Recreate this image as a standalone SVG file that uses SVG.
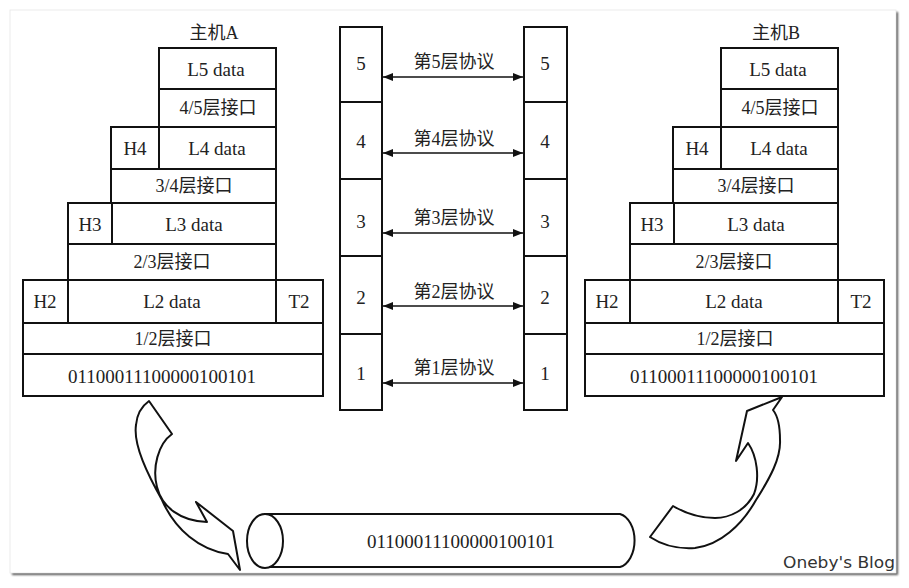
<svg xmlns="http://www.w3.org/2000/svg" width="909" height="588" viewBox="0 0 909 588">
<style>
.b{fill:#fff;stroke:#111;stroke-width:2}
.t{font-family:"Liberation Serif","Noto Sans CJK SC",serif;font-size:18px;fill:#222;text-anchor:middle;dominant-baseline:central}
.n{font-size:19px}
.ln{stroke:#111;stroke-width:1.6;fill:none}
.arr{fill:#fff;stroke:#111;stroke-width:2;stroke-linejoin:round}
</style>
<defs>
<marker id="ah" viewBox="0 0 10 8" refX="10" refY="4" markerWidth="10" markerHeight="8" markerUnits="userSpaceOnUse" orient="auto-start-reverse">
<path d="M0,0 L10,4 L0,8 Z" fill="#111"/>
</marker>
<filter id="sh" x="-5%" y="-5%" width="110%" height="110%">
<feGaussianBlur stdDeviation="1.3"/>
</filter>
</defs>
<rect x="0" y="0" width="909" height="588" fill="#fff"/>
<rect x="12" y="12" width="886" height="563" fill="#555" filter="url(#sh)"/>
<rect x="10" y="10" width="886" height="563" fill="#fff" stroke="#e6e6e6" stroke-width="0.8"/>

<g id="hostA">
<text class="t" x="214" y="33">主机A</text>
<rect class="b" x="159" y="48" width="117" height="41"/>
<text class="t n" x="216" y="69">L5 data</text>
<rect class="b" x="159" y="89" width="117" height="38"/>
<text class="t" x="218" y="108">4/5层接口</text>
<rect class="b" x="111" y="127" width="48" height="42"/>
<text class="t n" x="135" y="148">H4</text>
<rect class="b" x="159" y="127" width="117" height="42"/>
<text class="t n" x="217" y="148">L4 data</text>
<rect class="b" x="111" y="169" width="165" height="34"/>
<text class="t" x="194" y="186">3/4层接口</text>
<rect class="b" x="68" y="203" width="44" height="41"/>
<text class="t n" x="90" y="224">H3</text>
<rect class="b" x="112" y="203" width="164" height="41"/>
<text class="t n" x="194" y="224">L3 data</text>
<rect class="b" x="68" y="244" width="208" height="36"/>
<text class="t" x="172" y="262">2/3层接口</text>
<rect class="b" x="23" y="280" width="45" height="43"/>
<text class="t n" x="45" y="301">H2</text>
<rect class="b" x="68" y="280" width="208" height="43"/>
<text class="t n" x="172" y="301">L2 data</text>
<rect class="b" x="276" y="280" width="47" height="43"/>
<text class="t n" x="299" y="301">T2</text>
<rect class="b" x="23" y="323" width="300" height="31"/>
<text class="t" x="173" y="339">1/2层接口</text>
<rect class="b" x="23" y="354" width="300" height="42"/>
<text class="t n" x="162" y="376">01100011100000100101</text>
</g>

<g id="hostB">
<text class="t" x="776" y="33">主机B</text>
<rect class="b" x="721" y="48" width="117" height="41"/>
<text class="t n" x="778" y="69">L5 data</text>
<rect class="b" x="721" y="89" width="117" height="38"/>
<text class="t" x="780" y="108">4/5层接口</text>
<rect class="b" x="673" y="127" width="48" height="42"/>
<text class="t n" x="697" y="148">H4</text>
<rect class="b" x="721" y="127" width="117" height="42"/>
<text class="t n" x="779" y="148">L4 data</text>
<rect class="b" x="673" y="169" width="165" height="34"/>
<text class="t" x="756" y="186">3/4层接口</text>
<rect class="b" x="630" y="203" width="44" height="41"/>
<text class="t n" x="652" y="224">H3</text>
<rect class="b" x="674" y="203" width="164" height="41"/>
<text class="t n" x="756" y="224">L3 data</text>
<rect class="b" x="630" y="244" width="208" height="36"/>
<text class="t" x="734" y="262">2/3层接口</text>
<rect class="b" x="585" y="280" width="45" height="43"/>
<text class="t n" x="607" y="301">H2</text>
<rect class="b" x="630" y="280" width="208" height="43"/>
<text class="t n" x="734" y="301">L2 data</text>
<rect class="b" x="838" y="280" width="46" height="43"/>
<text class="t n" x="861" y="301">T2</text>
<rect class="b" x="585" y="323" width="299" height="31"/>
<text class="t" x="735" y="339">1/2层接口</text>
<rect class="b" x="585" y="354" width="299" height="42"/>
<text class="t n" x="724" y="376">01100011100000100101</text>
</g>

<g id="stackLeft">
<rect class="b" x="340" y="27" width="42" height="75"/>
<rect class="b" x="340" y="102" width="42" height="77"/>
<rect class="b" x="340" y="179" width="42" height="77"/>
<rect class="b" x="340" y="256" width="42" height="78"/>
<rect class="b" x="340" y="334" width="42" height="76"/>
<text class="t n" x="361" y="63">5</text>
<text class="t n" x="361" y="141">4</text>
<text class="t n" x="361" y="221">3</text>
<text class="t n" x="361" y="297">2</text>
<text class="t n" x="361" y="373">1</text>
</g>

<g id="stackRight">
<rect class="b" x="524" y="27" width="43" height="75"/>
<rect class="b" x="524" y="102" width="43" height="77"/>
<rect class="b" x="524" y="179" width="43" height="77"/>
<rect class="b" x="524" y="256" width="43" height="78"/>
<rect class="b" x="524" y="334" width="43" height="76"/>
<text class="t n" x="545" y="63">5</text>
<text class="t n" x="545" y="141">4</text>
<text class="t n" x="545" y="221">3</text>
<text class="t n" x="545" y="297">2</text>
<text class="t n" x="545" y="373">1</text>
</g>

<g id="connectors">
<line class="ln" x1="383" y1="77" x2="523" y2="77" marker-start="url(#ah)" marker-end="url(#ah)"/>
<line class="ln" x1="383" y1="153" x2="523" y2="153" marker-start="url(#ah)" marker-end="url(#ah)"/>
<line class="ln" x1="383" y1="233" x2="523" y2="233" marker-start="url(#ah)" marker-end="url(#ah)"/>
<line class="ln" x1="383" y1="306" x2="523" y2="306" marker-start="url(#ah)" marker-end="url(#ah)"/>
<line class="ln" x1="383" y1="383" x2="523" y2="383" marker-start="url(#ah)" marker-end="url(#ah)"/>
<text class="t" x="454" y="62">第5层协议</text>
<text class="t" x="454" y="139">第4层协议</text>
<text class="t" x="454" y="218">第3层协议</text>
<text class="t" x="454" y="292">第2层协议</text>
<text class="t" x="454" y="368">第1层协议</text>
<path class="arr" d="M149,401 L172,434 C158,444 152,468 157,487 C162,507 180,521 207,522 L196,502 L233,531 L240,570 L228,554 C200,550 175,530 162,500 C148,475 133,445 136,425 C137,413 142,406 149,401 Z"/>
<path class="arr" d="M782,397 L747,411 L736,461 L748,443 C757,456 760,478 754,494 C746,510 730,518 715,518 C700,518 685,513 673,506 L650,537 C665,547 680,549 695,548 C720,545 742,525 756,500 C770,478 781,458 780,440 C780,425 777,415 773,410 Z"/>
</g>

<g id="cable">
<path class="b" d="M265,514 L620,514 A18,27 0 0 1 620,567 L265,567 Z"/>
<ellipse class="b" cx="265" cy="541" rx="18" ry="27"/>
<text class="t n" x="461" y="541">01100011100000100101</text>
</g>

<text x="895" y="568" text-anchor="end" font-family="DejaVu Sans, sans-serif" font-size="15" fill="#333" textLength="112" lengthAdjust="spacingAndGlyphs">Oneby's Blog</text>
</svg>
